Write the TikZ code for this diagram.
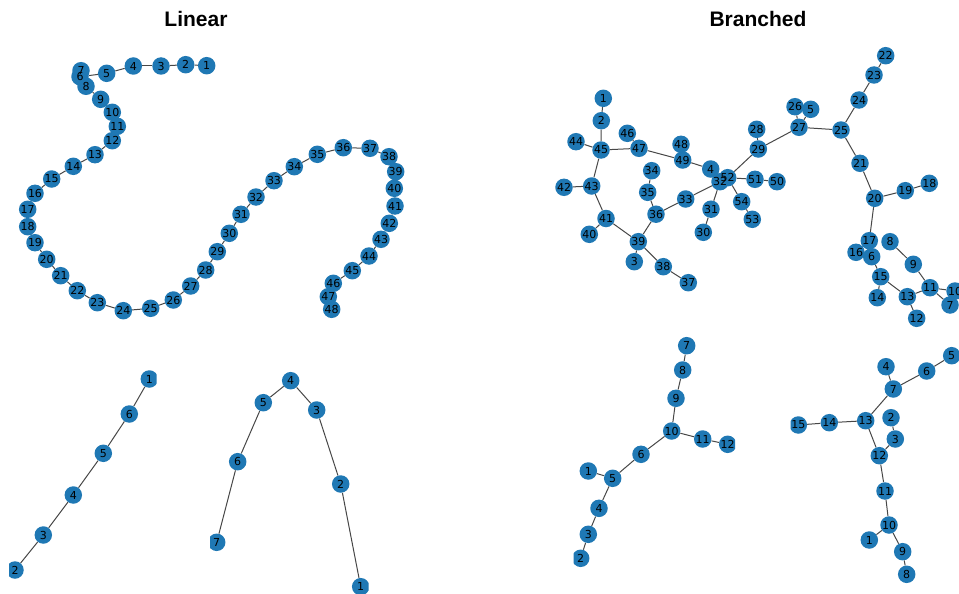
\documentclass[tikz,border=0pt]{standalone}
\usepackage{fontspec}
\setmainfont{DejaVu Sans}
\newfontfamily\titlefont{Liberation Sans}
\usepackage{tikz}
\usetikzlibrary{arrows.meta, calc}
\definecolor{vblue}{HTML}{1F78B4}
\pgfdeclarelayer{edges}
\pgfsetlayers{edges,main}

% node positions, name/x/y
\def\linpos{1/206.7/65.7, 2/185.7/64.7, 3/161/66, 4/133.3/66, 5/106.7/73.3,
 6/80/76.7, 7/81/70.7, 8/86/86.3, 9/100.7/99.3, 10/112.3/112.3, 11/117.3/126.3,
 12/112.3/140.7, 13/95/154.7, 14/73.3/166.3, 15/51.7/179, 16/35/193.3,
 17/27.7/209.3, 18/27.7/226.7, 19/35/242.7, 20/46.7/259.3, 21/60.7/275.7,
 22/77.3/290.7, 23/97.3/302.7, 24/123.3/310.7, 25/150.7/308.3, 26/173.3/300,
 27/190.7/286, 28/205.7/270, 29/217.3/251.7, 30/229.3/233.3, 31/241/214.3,
 32/256/197, 33/274/180.7, 34/294.3/166.7, 35/317.3/154.3, 36/343.3/147.7,
 37/370/148.3, 38/389/156.7, 39/395.7/171.7, 40/394.3/188.3, 41/395/206,
 42/389.3/223.3, 43/381/239.3, 44/369/256, 45/352.3/270.7, 46/333.3/283.3,
 47/328.3/296.7, 48/331.7/309.3}
\def\brpos{1/603.3/98.3, 2/601.3/120.7, 3/634.3/261.7, 4/710.7/169,
 5/810.7/109.3, 6/871.7/256.7, 7/950/305, 8/890/241.7, 9/913.3/264.3,
 10/955/291, 11/930/287.7, 12/916.7/318.3, 13/907.3/296.7, 14/877.3/297.7,
 15/880.7/276.7, 16/856/252.3, 17/869.3/240.7, 18/929.3/183.3, 19/905.3/190.7,
 20/874.7/198.3, 21/860/163.3, 22/885.7/55.7, 23/874/75, 24/859/100,
 25/841/130, 26/795/106.7, 27/799/127.3, 28/756.7/129.3, 29/758.3/149,
 30/703.3/232.3, 31/711/209.2, 32/720/181.7, 33/685.7/199, 34/651.7/170.7,
 35/647.7/192.3, 36/656/214.2, 37/688.3/282.7, 38/663.3/266.7, 39/638.3/241.7,
 40/589.3/234.3, 41/606/218.5, 42/564/187.3, 43/591.7/186, 44/576/141.7,
 45/601/150, 46/627.3/133.3, 47/639/148.3, 48/681/144.3, 49/682.7/160,
 50/777/181.7, 51/755/179.3, 52/727.7/177.7, 53/752.3/219.3, 54/741.7/201.7}
\def\apos{1/149.3/379, 6/129.3/414, 5/103.3/453.3, 4/73.3/495, 3/43.3/535, 2/15/570}
\def\bpos{4/290.7/380.7, 5/263.3/402.7, 3/316.7/410, 6/237.7/461.7, 2/340.7/484,
 7/216.7/542.3, 1/360.7/586.7}
\def\cpos{7/686.7/345.7, 8/682.7/370, 9/676/398.3, 10/671.7/431, 11/702.7/439,
 12/727.7/444.3, 6/641/454.3, 5/612.7/478.3, 1/588.3/471, 4/599/508.3,
 3/588.3/534.3, 2/580.7/558.3}
\def\dpos{5/951.7/355.7, 6/926.7/371, 4/886/366.7, 7/893.3/389, 13/865.7/420.7,
 14/829.3/422.7, 15/798.3/425, 2/891/417.7, 3/895.3/439, 12/879.3/455.7,
 11/885/491, 10/889/525, 1/869.3/540, 9/902.7/551.7, 8/906.7/574.3}

\begin{document}
\begin{tikzpicture}[x=1pt, y=-1pt,
  vx/.style={circle, fill=vblue, inner sep=0pt, minimum size=17.5pt},
  num/.style={inner sep=0pt, text=black, font=\fontsize{11}{11}\selectfont},
  ed/.style={black!72, line width=1pt},
  ttl/.style={font=\titlefont\bfseries\fontsize{21}{21}\selectfont}]
\useasboundingbox (0,0) rectangle (959,594);

\node[ttl] (tlin) at (196,18.5) {Linear};
\node[ttl] (tbr) at (758,18.5) {Branched};

% linear, large
\foreach \n/\x/\y in \linpos \node[vx] (l\n) at (\x,\y) {};
\foreach \n/\x/\y in \linpos \node[num] at (l\n) {\n};
\begin{pgfonlayer}{edges}
\foreach \i [remember=\i as \j (initially 1)] in {2,...,48}
  \draw[ed] (l\j) -- (l\i);
\end{pgfonlayer}

% branched, large
\foreach \n/\x/\y in \brpos \node[vx] (r\n) at (\x,\y) {};
\foreach \n/\x/\y in \brpos \node[num] at (r\n) {\n};
\begin{pgfonlayer}{edges}
\foreach \s/\t in {1/2, 2/45, 44/45, 45/47, 46/47, 45/43, 43/42, 43/41, 41/40,
  41/39, 39/3, 39/38, 38/37, 39/36, 36/35, 35/34, 36/33, 33/32, 32/31, 31/30,
  47/49, 48/49, 49/4, 4/32, 32/52, 52/51, 51/50, 52/54, 54/53, 52/29, 29/28,
  29/27, 27/26, 27/5, 27/25, 25/24, 24/23, 23/22, 25/21, 21/20, 20/19, 19/18,
  20/17, 17/16, 17/6, 6/15, 15/14, 15/13, 13/12, 13/11, 11/9, 9/8, 11/10, 11/7}
  \draw[ed] (r\s) -- (r\t);
\end{pgfonlayer}

% linear, small
\begin{scope}
\clip (9,335) rectangle (156.7,594);
\foreach \n/\x/\y in \apos \node[vx] (a\n) at (\x,\y) {};
\foreach \n/\x/\y in \apos \node[num] at (a\n) {\n};
\end{scope}
\begin{scope}
\clip (210,335) rectangle (368.5,594);
\foreach \n/\x/\y in \bpos \node[vx] (b\n) at (\x,\y) {};
\foreach \n/\x/\y in \bpos \node[num] at (b\n) {\n};
\end{scope}
\begin{pgfonlayer}{edges}
\foreach \s/\t in {1/6, 6/5, 5/4, 4/3, 3/2} \draw[ed] (a\s) -- (a\t);
\foreach \s/\t in {7/6, 6/5, 5/4, 4/3, 3/2, 2/1} \draw[ed] (b\s) -- (b\t);
\end{pgfonlayer}

% branched, small
\begin{scope}
\clip (573.5,335) rectangle (735,594);
\foreach \n/\x/\y in \cpos \node[vx] (c\n) at (\x,\y) {};
\foreach \n/\x/\y in \cpos \node[num] at (c\n) {\n};
\end{scope}
\begin{scope}
\clip (790.5,335) rectangle (959,594);
\foreach \n/\x/\y in \dpos \node[vx] (d\n) at (\x,\y) {};
\foreach \n/\x/\y in \dpos \node[num] at (d\n) {\n};
\end{scope}
\begin{pgfonlayer}{edges}
\foreach \s/\t in {7/8, 8/9, 9/10, 10/11, 11/12, 10/6, 6/5, 5/1, 5/4, 4/3, 3/2}
  \draw[ed] (c\s) -- (c\t);
\foreach \s/\t in {5/6, 6/7, 4/7, 7/13, 13/14, 14/15, 13/12, 2/3, 3/12, 12/11,
  11/10, 10/1, 10/9, 9/8}
  \draw[ed] (d\s) -- (d\t);
\end{pgfonlayer}
\end{tikzpicture}
\end{document}
